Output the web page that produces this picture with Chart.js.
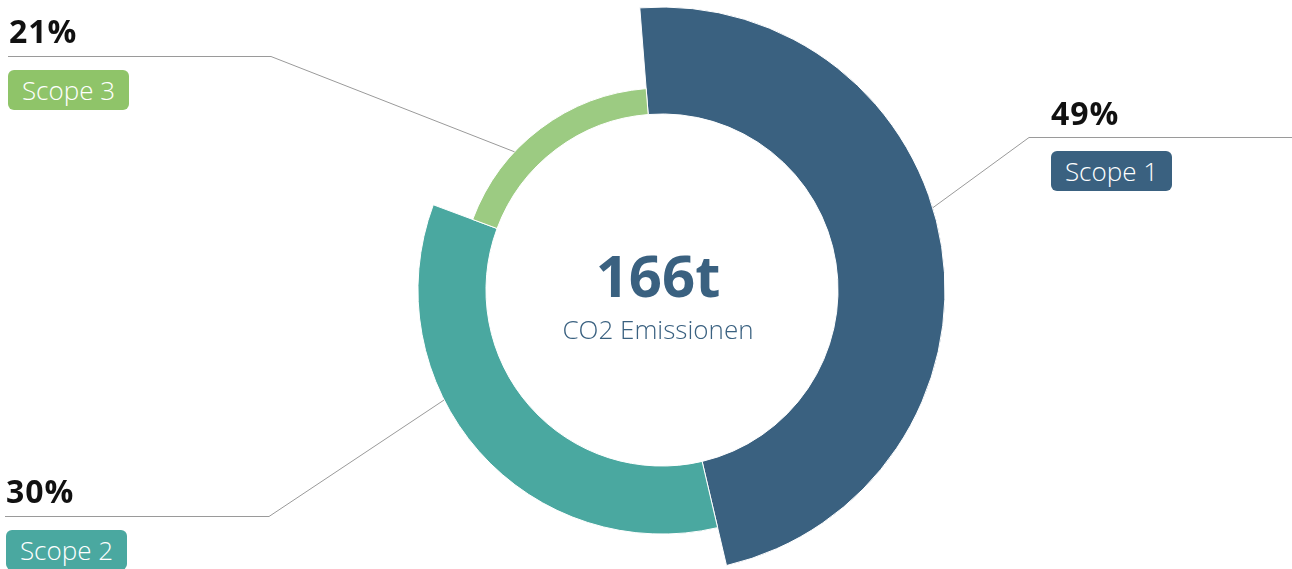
<!DOCTYPE html>
<html>
<head>
<meta charset="utf-8">
<script src="https://cdn.jsdelivr.net/npm/chart.js@4"></script>
<style>
    body { margin: 0; background: #fff; font-family: "Open Sans", "Noto Sans", sans-serif; }
    #wrap { position: relative; width: 1292px; height: 569px; overflow: hidden; }
    #chart { position: absolute; left: 0; top: 0; }
    .pct { position: absolute; font-size: 32px; font-weight: 700; color: #111; line-height: 1; letter-spacing: 1px; white-space: nowrap; }
    .badge { position: absolute; width: 121px; height: 40px; border-radius: 6px; color: #fff; font-size: 26px; font-weight: 300; line-height: 40px; text-align: center; white-space: nowrap; }
    .total { position: absolute; left: 458px; width: 400px; text-align: center; color: #3a6180; white-space: nowrap; }
</style>
</head>
<body>
<div id="wrap">
    <canvas id="chart" width="1292" height="569"></canvas>
</div>
<script>
// Daten
const kategorien = ["Scope 1", "Scope 2", "Scope 3"];
const werte = [79, 57, 30]; // t CO2
const prozentLabels = ["49%", "30%", "21%"];
const gesamtLabel = "166t";
const gesamtText = "CO2 Emissionen";

// Stil
const farben = ["#3a6180", "#4aa8a0", "#9ccb82"];
const badgeFarben = ["#3a6180", "#4aa8a0", "#8fc469"];
const ringDicke = [1, 0.636, 0.243]; // Anteil der max. Ringbreite
const ankerAnteil = [0.453, 0.618, 0.349]; // wo die Linie am Bogen ansetzt
const linien = [
    { knickX: 1029, y: 137, endeX: 1292 },
    { knickX: 269, y: 516, endeX: 5 },
    { knickX: 271, y: 56, endeX: 8 },
];
const labelPos = [
    { x: 1051, y: 97, bx: 1051, by: 151 },
    { x: 6, y: 475, bx: 6, by: 530 },
    { x: 9, y: 15, bx: 8, by: 70 },
];

const wrap = document.getElementById("wrap");
kategorien.forEach((name, i) => {
    const p = document.createElement("div");
    p.className = "pct";
    p.style.left = labelPos[i].x + "px";
    p.style.top = labelPos[i].y + "px";
    p.textContent = prozentLabels[i];
    wrap.appendChild(p);

    const b = document.createElement("div");
    b.className = "badge";
    b.style.left = labelPos[i].bx + "px";
    b.style.top = labelPos[i].by + "px";
    b.style.background = badgeFarben[i];
    b.textContent = name;
    wrap.appendChild(b);
});

const t1 = document.createElement("div");
t1.className = "total";
t1.style.top = "246px";
t1.style.fontSize = "58px";
t1.style.fontWeight = "700";
t1.style.lineHeight = "1";
t1.textContent = gesamtLabel;
wrap.appendChild(t1);

const t2 = document.createElement("div");
t2.className = "total";
t2.style.top = "316px";
t2.style.fontSize = "26px";
t2.style.fontWeight = "300";
t2.style.lineHeight = "1";
t2.textContent = gesamtText;
wrap.appendChild(t2);

// Bögen mit unterschiedlicher Breite + Linien zu den Labels
const ringPlugin = {
    id: "ring",
    beforeDatasetsDraw(chart) {
        const meta = chart.getDatasetMeta(0);
        const inner = meta.controller.innerRadius;
        const outer = meta.controller.outerRadius;
        meta.data.forEach((arc, i) => {
            arc.outerRadius = inner + (outer - inner) * ringDicke[i];
        });
    },
    afterDatasetsDraw(chart) {
        const ctx = chart.ctx;
        const meta = chart.getDatasetMeta(0);
        ctx.save();
        ctx.strokeStyle = "#9a9a9a";
        ctx.lineWidth = 1;
        meta.data.forEach((arc, i) => {
            const a = arc.startAngle + ankerAnteil[i] * (arc.endAngle - arc.startAngle);
            const px = arc.x + Math.cos(a) * arc.outerRadius;
            const py = arc.y + Math.sin(a) * arc.outerRadius;
            ctx.beginPath();
            ctx.moveTo(px, py);
            ctx.lineTo(linien[i].knickX, linien[i].y + 0.5);
            ctx.lineTo(linien[i].endeX, linien[i].y + 0.5);
            ctx.stroke();
        });
        ctx.restore();
    },
};

const ctx = document.getElementById("chart").getContext("2d");
new Chart(ctx, {
    type: "doughnut",
    data: {
        labels: kategorien,
        datasets: [
            {
                data: werte,
                backgroundColor: farben,
                borderColor: "#ffffff",
                borderWidth: 1,
            },
        ],
    },
    options: {
        responsive: false,
        animation: false,
        devicePixelRatio: 1,
        rotation: -4.5,
        radius: 283,
        cutout: "62.2%",
        layout: { padding: { left: 32, top: 11 } },
        plugins: {
            legend: { display: false },
            tooltip: { enabled: false },
        },
    },
    plugins: [ringPlugin],
});
</script>
</body>
</html>
